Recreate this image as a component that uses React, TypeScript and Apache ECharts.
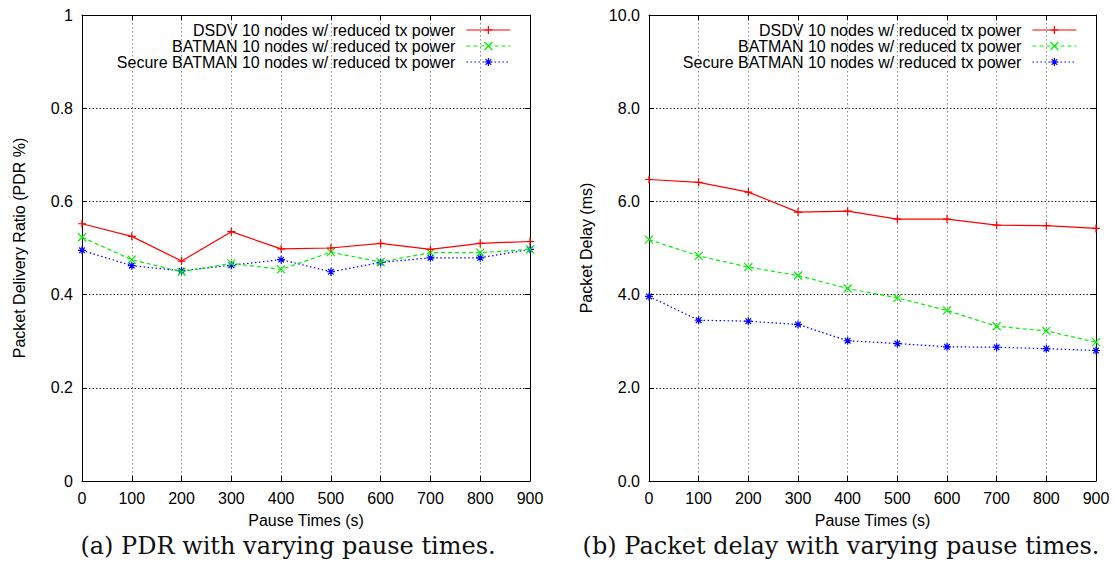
import React, { useEffect, useRef } from "react";
import * as echarts from "echarts";

const pauseTimes = [0, 100, 200, 300, 400, 500, 600, 700, 800, 900];
const seriesNames = [
  "DSDV 10 nodes w/ reduced tx power",
  "BATMAN 10 nodes w/ reduced tx power",
  "Secure BATMAN 10 nodes w/ reduced tx power",
];
const pdrDSDV = [0.552, 0.525, 0.472, 0.535, 0.498, 0.5, 0.51, 0.497, 0.51, 0.514];
const pdrBATMAN = [0.523, 0.475, 0.449, 0.467, 0.454, 0.491, 0.47, 0.49, 0.49, 0.497];
const pdrSecure = [0.495, 0.462, 0.451, 0.463, 0.475, 0.449, 0.469, 0.479, 0.479, 0.497];
const delayDSDV = [6.47, 6.41, 6.2, 5.77, 5.79, 5.62, 5.62, 5.49, 5.48, 5.42];
const delayBATMAN = [5.18, 4.83, 4.59, 4.41, 4.13, 3.93, 3.66, 3.32, 3.22, 2.98];
const delaySecure = [3.96, 3.45, 3.43, 3.36, 3.01, 2.95, 2.88, 2.87, 2.84, 2.8];
const captions = ["(a) PDR with varying pause times.", "(b) Packet delay with varying pause times."];
const xAxisTitle = "Pause Times (s)";
const yAxisTitles = ["Packet Delivery Ratio (PDR %)", "Packet Delay (ms)"];

const FONT = "Liberation Sans";
const FS = 16;
const colors = ["#ff0000", "#00f000", "#0000ff"];
const symbols = [
  "path://M0,5L10,5M5,0L5,10",
  "path://M0,0L10,10M0,10L10,0",
  "path://M0,5L10,5M5,0L5,10M1.5,1.5L8.5,8.5M1.5,8.5L8.5,1.5",
];
const lineTypes: any[] = ["solid", [4, 3], [1.5, 2.5]];

function makeAxes(gi: number, yMax: number, yInterval: number, yFmt: (v: number) => string, yName: string) {
  const xBase = {
    type: "value",
    gridIndex: gi,
    min: 0,
    max: 900,
    interval: 100,
    axisLine: { show: true, onZero: false, lineStyle: { color: "#000", width: 1 } },
    axisTick: { show: true, inside: true, length: 5, lineStyle: { color: "#000" } },
  };
  const yBase = {
    type: "value",
    gridIndex: gi,
    min: 0,
    max: yMax,
    interval: yInterval,
    axisLine: { show: true, onZero: false, lineStyle: { color: "#000", width: 1 } },
    axisTick: { show: true, inside: true, length: 5, lineStyle: { color: "#000" } },
  };
  const xAxes = [
    {
      ...xBase,
      position: "bottom",
      axisLabel: { fontSize: FS, fontFamily: FONT, color: "#000", margin: 9 },
      splitLine: { show: true, lineStyle: { color: "#888", type: [1.5, 2.5], width: 1 } },
      name: xAxisTitle,
      nameLocation: "middle",
      nameGap: 31,
      nameTextStyle: { fontSize: FS, fontFamily: FONT, color: "#000" },
    },
    { ...xBase, position: "top", axisLabel: { show: false }, splitLine: { show: false } },
  ];
  const yAxes = [
    {
      ...yBase,
      position: "left",
      axisLabel: { fontSize: FS, fontFamily: FONT, color: "#000", margin: 9, formatter: yFmt },
      splitLine: { show: true, lineStyle: { color: "#222", type: [1.5, 2], width: 1 } },
      name: yName,
      nameLocation: "middle",
      nameGap: 55,
      nameTextStyle: { fontSize: FS, fontFamily: FONT, color: "#000" },
    },
    { ...yBase, position: "right", axisLabel: { show: false }, splitLine: { show: false } },
  ];
  return { xAxes, yAxes };
}

function makeSeries(gi: number, datasets: number[][]) {
  return datasets.map((vals, i) => ({
    type: "line",
    name: seriesNames[i],
    xAxisIndex: gi * 2,
    yAxisIndex: gi * 2,
    data: pauseTimes.map((t, k) => [t, vals[k]]),
    symbol: symbols[i],
    symbolSize: 8,
    showSymbol: true,
    lineStyle: { color: colors[i], width: 1.2, type: lineTypes[i] },
    itemStyle: { color: colors[i], borderColor: colors[i], borderWidth: 1.2 },
    z: 3 - i + 2,
  }));
}

export default function App() {
  const ref = useRef<HTMLDivElement>(null);
  useEffect(() => {
    if (!ref.current) return;
    const chart = echarts.init(ref.current, undefined, { renderer: "svg" });
    const a = makeAxes(0, 1, 0.2, (v: number) => (v === 0 || v === 1 ? String(v) : v.toFixed(1)), yAxisTitles[0]);
    const b = makeAxes(1, 10, 2, (v: number) => v.toFixed(1), yAxisTitles[1]);
    const legendBase = {
      orient: "vertical",
      align: "right",
      top: 22,
      padding: 0,
      itemGap: 0,
      itemWidth: 44,
      itemHeight: 10,
      selectedMode: false,
      data: seriesNames,
      textStyle: { fontSize: FS, fontFamily: FONT, color: "#000", padding: [0, 6, 0, 0] },
      itemStyle: { borderWidth: 1.2 },
      lineStyle: { width: 1.2 },
    };
    chart.setOption({
      animation: false,
      backgroundColor: "#fff",
      grid: [
        { left: 82, top: 15, width: 448, height: 466 },
        { left: 649, top: 15, width: 447, height: 466 },
      ],
      xAxis: [...a.xAxes, ...b.xAxes],
      yAxis: [...a.yAxes, ...b.yAxes],
      legend: [
        { ...legendBase, right: 603 },
        { ...legendBase, right: 37 },
      ],
      series: [
        ...makeSeries(0, [pdrDSDV, pdrBATMAN, pdrSecure]),
        ...makeSeries(1, [delayDSDV, delayBATMAN, delaySecure]),
      ],
      graphic: [
        {
          type: "text",
          x: 288,
          y: 546,
          style: { text: captions[0], fill: "#111", font: "24px 'DejaVu Serif'", textAlign: "center", textVerticalAlign: "middle" },
        },
        {
          type: "text",
          x: 841,
          y: 546,
          style: { text: captions[1], fill: "#111", font: "24px 'DejaVu Serif'", textAlign: "center", textVerticalAlign: "middle" },
        },
      ],
    });
    return () => chart.dispose();
  }, []);
  return (
    <div
      ref={ref}
      style={{ position: "absolute", left: 0, top: 0, width: 1114, height: 572, background: "#fff" }}
    />
  );
}
